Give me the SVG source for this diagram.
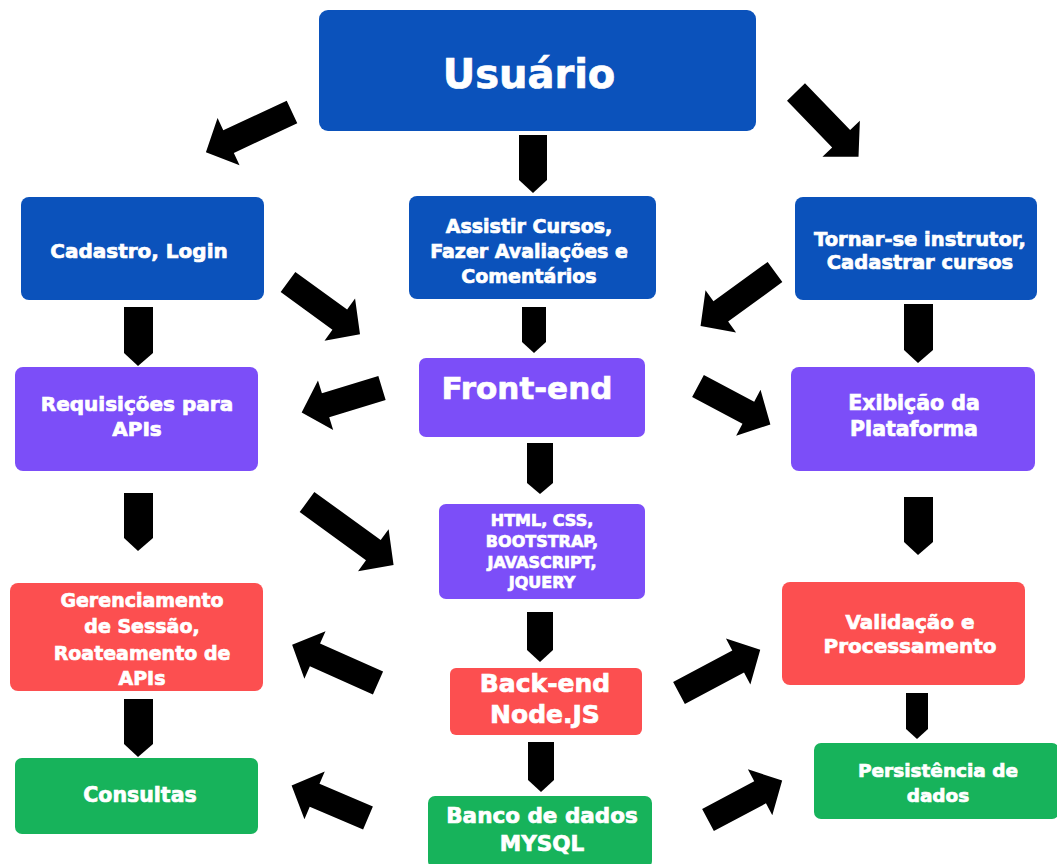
<svg xmlns="http://www.w3.org/2000/svg" width="1057" height="864" viewBox="0 0 1057 864">
<style>
.blue{fill:#0b52bb}
.purple{fill:#7c4ef8}
.red{fill:#fc4f50}
.green{fill:#17b35b}
text{font-family:"DejaVu Sans","Liberation Sans",sans-serif;font-weight:bold;fill:#ffffff;stroke:#ffffff;stroke-width:0.7;text-anchor:middle}
.arr{fill:#000000}
</style>
<rect width="1057" height="864" fill="#ffffff"/>
<g id="connectors">
<polygon class="arr" points="519,135 547,135 547,180 533,193 519,180"/>
<polygon class="arr" points="124,307 153,307 153,353 138,366 124,353"/>
<polygon class="arr" points="522,307 546,307 546,342 534,353 522,342"/>
<polygon class="arr" points="904,304 933,304 933,350 918,363 904,350"/>
<polygon class="arr" points="527,443 553,443 553,483 540,494 527,483"/>
<polygon class="arr" points="124,493 153,493 153,538 138,551 124,538"/>
<polygon class="arr" points="904,497 933,497 933,542 918,555 904,542"/>
<polygon class="arr" points="527,612 553,612 553,650 540,662 527,650"/>
<polygon class="arr" points="528,742 554,742 554,780 541,792 528,780"/>
<polygon class="arr" points="124,699 153,699 153,744 138,757 124,744"/>
<polygon class="arr" points="906,693 928,693 928,729 917,739 906,729"/>
<path class="arr" d="M0,-12.5 H70 V-26 L95,0 L70,26 V12.5 H0 Z" transform="translate(292,112) rotate(155)"/>
<path class="arr" d="M0,-12.5 H65 V-26 L90,0 L65,26 V12.5 H0 Z" transform="translate(796,92) rotate(46)"/>
<path class="arr" d="M0,-12.5 H64 V-26 L89,0 L64,26 V12.5 H0 Z" transform="translate(288,282) rotate(36)"/>
<path class="arr" d="M0,-12.5 H67 V-26 L92,0 L67,26 V12.5 H0 Z" transform="translate(775,272) rotate(144)"/>
<path class="arr" d="M0,-12.5 H59 V-26 L84,0 L59,26 V12.5 H0 Z" transform="translate(382,388) rotate(163)"/>
<path class="arr" d="M0,-12.5 H57 V-26 L82,0 L57,26 V12.5 H0 Z" transform="translate(698,386) rotate(28)"/>
<path class="arr" d="M0,-12.5 H82 V-26 L107,0 L82,26 V12.5 H0 Z" transform="translate(307,502) rotate(36)"/>
<path class="arr" d="M0,-12.5 H69 V-26 L94,0 L69,26 V12.5 H0 Z" transform="translate(378,683) rotate(204)"/>
<path class="arr" d="M0,-12.5 H58 V-26 L83,0 L58,26 V12.5 H0 Z" transform="translate(368,818) rotate(203)"/>
<path class="arr" d="M0,-12.5 H67 V-26 L92,0 L67,26 V12.5 H0 Z" transform="translate(679,693) rotate(-28)"/>
<path class="arr" d="M0,-12.5 H59 V-26 L84,0 L59,26 V12.5 H0 Z" transform="translate(708,820) rotate(-28)"/>
</g>
<g id="usuario">
<rect class="blue" x="319" y="10" width="437" height="121" rx="9"/>
<text x="529" y="88" font-size="40">Usuário</text>
</g>
<g id="cadastro">
<rect class="blue" x="21" y="197" width="243" height="103" rx="8"/>
<text x="139" y="258" font-size="20">Cadastro, Login</text>
</g>
<g id="assistir">
<rect class="blue" x="409" y="196" width="247" height="103" rx="8"/>
<text x="529" y="233" font-size="19">Assistir Cursos,</text>
<text x="529" y="258" font-size="19">Fazer Avaliações e</text>
<text x="529" y="283" font-size="19">Comentários</text>
</g>
<g id="tornar">
<rect class="blue" x="795" y="197" width="242" height="103" rx="8"/>
<text x="920" y="246" font-size="19.5">Tornar-se instrutor,</text>
<text x="920" y="269" font-size="19.5">Cadastrar cursos</text>
</g>
<g id="frontend">
<rect class="purple" x="419" y="358" width="226" height="79" rx="7"/>
<text x="527" y="399" font-size="31">Front-end</text>
</g>
<g id="requisicoes">
<rect class="purple" x="15" y="367" width="243" height="104" rx="8"/>
<text x="137" y="411" font-size="20">Requisições para</text>
<text x="137" y="436" font-size="20">APIs</text>
</g>
<g id="exibicao">
<rect class="purple" x="791" y="367" width="244" height="104" rx="8"/>
<text x="914" y="410" font-size="20.5">Exibição da</text>
<text x="914" y="436" font-size="20.5">Plataforma</text>
</g>
<g id="html">
<rect class="purple" x="439" y="504" width="206" height="95" rx="7"/>
<text x="542" y="526" font-size="16">HTML, CSS,</text>
<text x="542" y="547" font-size="16">BOOTSTRAP,</text>
<text x="542" y="568" font-size="16">JAVASCRIPT,</text>
<text x="542" y="588" font-size="16">JQUERY</text>
</g>
<g id="gerenciamento">
<rect class="red" x="10" y="583" width="253" height="108" rx="8"/>
<text x="142" y="607" font-size="19">Gerenciamento</text>
<text x="142" y="633" font-size="19">de Sessão,</text>
<text x="142" y="660" font-size="19">Roateamento de</text>
<text x="142" y="685" font-size="19">APIs</text>
</g>
<g id="backend">
<rect class="red" x="450" y="668" width="192" height="67" rx="6"/>
<text x="545" y="692" font-size="25">Back-end</text>
<text x="545" y="723" font-size="25">Node.JS</text>
</g>
<g id="validacao">
<rect class="red" x="782" y="582" width="243" height="103" rx="8"/>
<text x="910" y="629" font-size="20">Validação e</text>
<text x="910" y="653" font-size="20">Processamento</text>
</g>
<g id="consultas">
<rect class="green" x="15" y="758" width="243" height="76" rx="7"/>
<text x="140" y="802" font-size="20.5">Consultas</text>
</g>
<g id="banco">
<rect class="green" x="428" y="796" width="224" height="72" rx="7"/>
<text x="542" y="823" font-size="21.5">Banco de dados</text>
<text x="542" y="851" font-size="21.5">MYSQL</text>
</g>
<g id="persistencia">
<rect class="green" x="814" y="743" width="245" height="76" rx="7"/>
<text x="938" y="777" font-size="18.5">Persistência de</text>
<text x="938" y="802" font-size="18.5">dados</text>
</g>
</svg>
